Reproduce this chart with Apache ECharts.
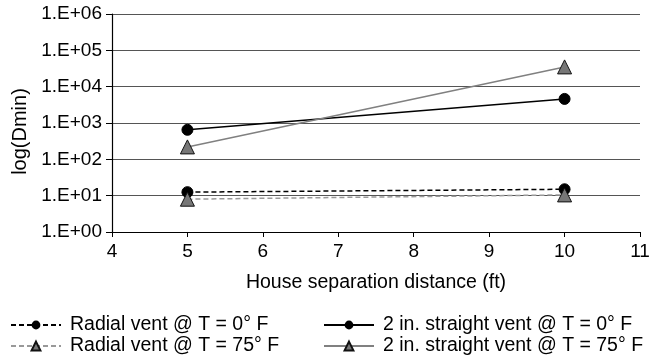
<!DOCTYPE html>
<html>
<head>
<meta charset="utf-8">
<script src="https://cdn.jsdelivr.net/npm/echarts@6/dist/echarts.min.js"></script>
<style>
  html, body { margin: 0; padding: 0; background: #fff; }
  #chart { width: 650px; height: 358px; }
</style>
</head>
<body>
<div id="chart"></div>
<script>
// House separation distance (ft)
const distances = [5, 10];
// Minimum dilution, Dmin
const radialVent0F = [12.5, 15];
const radialVent75F = [8, 10.5];
const straightVent0F = [650, 4600];
const straightVent75F = [220, 35000];

const seriesNames = [
  'Radial vent @ T = 0° F',
  'Radial vent @ T = 75° F',
  '2 in. straight vent @ T = 0° F',
  '2 in. straight vent @ T = 75° F'
];

const FONT = 'Liberation Sans, Arial, Helvetica, sans-serif';

function pairs(values) {
  return distances.map((d, i) => [d, values[i]]);
}

// 1.E+03 style labels for the log axis
function expLabel(v) {
  const e = Math.round(Math.log10(v));
  const s = String(Math.abs(e)).padStart(2, '0');
  return '1.E' + (e < 0 ? '-' : '+') + s;
}

const chart = echarts.init(document.getElementById('chart'), null, { renderer: 'canvas' });

const circle = { symbol: 'circle', symbolSize: 11 };
const triangle = { symbol: 'triangle', symbolSize: 14 };

const legendText = { fontSize: 19.5, lineHeight: 15, color: '#000', fontFamily: FONT, padding: [0, 0, 0, 4] };

chart.setOption({
  animation: false,
  backgroundColor: '#ffffff',
  textStyle: { fontFamily: FONT },
  grid: { left: 112, right: 10, top: 14, bottom: 126, containLabel: false, outerBoundsMode: 'none' },
  xAxis: {
    type: 'value',
    min: 4, max: 11, interval: 1,
    name: 'House separation distance (ft)',
    nameLocation: 'middle',
    nameGap: 41,
    nameTextStyle: { fontSize: 19.5, color: '#000', fontFamily: FONT },
    axisLine: { show: true, onZero: false, lineStyle: { color: '#000', width: 1.2 } },
    axisTick: { show: true, inside: false, length: 5, lineStyle: { color: '#000' } },
    axisLabel: { fontSize: 19, color: '#000', margin: 10, fontFamily: FONT },
    splitLine: { show: false }
  },
  yAxis: {
    type: 'log',
    logBase: 10,
    min: 1, max: 1e6,
    name: 'log(Dmin)',
    nameLocation: 'middle',
    nameRotate: 90,
    nameGap: 81,
    nameTextStyle: { fontSize: 20, color: '#000', fontFamily: FONT, padding: [0, 17, 0, 0] },
    axisLine: { show: true, lineStyle: { color: '#000', width: 1.2 } },
    axisTick: { show: true, inside: false, length: 6, lineStyle: { color: '#000' } },
    axisLabel: { fontSize: 19, color: '#000', margin: 10, fontFamily: FONT, formatter: expLabel },
    splitLine: { show: true, lineStyle: { color: '#555', width: 1 } }
  },
  legend: [
    {
      orient: 'vertical',
      left: 10, top: 315, width: 300, height: 80, padding: 0,
      itemWidth: 50, itemHeight: 11, itemGap: 1,
      textStyle: legendText,
      data: [seriesNames[0], seriesNames[1]]
    },
    {
      orient: 'vertical',
      left: 323, top: 315, width: 327, height: 80, padding: 0,
      itemWidth: 50, itemHeight: 11, itemGap: 1,
      textStyle: legendText,
      data: [seriesNames[2], seriesNames[3]]
    }
  ],
  series: [
    Object.assign({
      name: seriesNames[0], type: 'line', data: pairs(radialVent0F),
      lineStyle: { color: '#000', width: 1.5, type: [5, 3] },
      itemStyle: { color: '#000', borderColor: '#000' }
    }, circle),
    Object.assign({
      name: seriesNames[1], type: 'line', data: pairs(radialVent75F),
      lineStyle: { color: '#999', width: 1.5, type: [5, 3] },
      itemStyle: { color: '#777', borderColor: '#111', borderWidth: 1 }
    }, triangle),
    Object.assign({
      name: seriesNames[2], type: 'line', data: pairs(straightVent0F),
      lineStyle: { color: '#000', width: 1.5 },
      itemStyle: { color: '#000', borderColor: '#000' }
    }, circle),
    Object.assign({
      name: seriesNames[3], type: 'line', data: pairs(straightVent75F),
      lineStyle: { color: '#808080', width: 1.5 },
      itemStyle: { color: '#777', borderColor: '#111', borderWidth: 1 }
    }, triangle)
  ]
});
</script>
</body>
</html>
